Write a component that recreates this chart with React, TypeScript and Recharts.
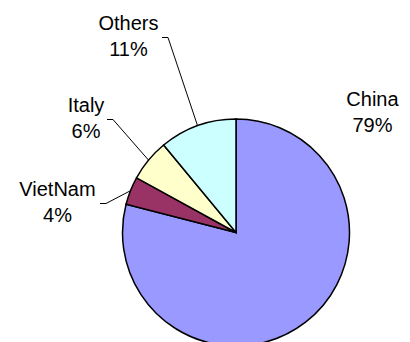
import React from "react";
import { PieChart, Pie, Cell } from "recharts";

const countries = ["China", "VietNam", "Italy", "Others"];
const shares = [79, 4, 6, 11];
const sliceColors = ["#9999FF", "#993366", "#FFFFCC", "#CCFFFF"];

const data = countries.map((name, i) => ({ name, value: shares[i] }));

// label placement relative to pie centre (text centre x, first baseline y, tick start dx from text centre)
const LABEL_LAYOUT: Record<string, { x: number; y: number; tick: number | null }> = {
  China: { x: 136.5, y: -126.5, tick: null },
  Others: { x: -107.5, y: -202.5, tick: 33.5 },
  Italy: { x: -150, y: -120.5, tick: 21 },
  VietNam: { x: -178.5, y: -36.5, tick: 42.5 },
};

const FONT = "'Liberation Sans', Arial, sans-serif";
const FONT_SIZE = 20;
const LINE_GAP = 26;
const RADIAN = Math.PI / 180;

const renderLabel = (props: any) => {
  const { cx, cy, midAngle, outerRadius, name, percent } = props;
  const layout = LABEL_LAYOUT[name];
  if (!layout) return null;
  const tx = cx + layout.x;
  const ty = cy + layout.y;
  const pct = `${Math.round(percent * 100)}%`;
  let line = null;
  if (layout.tick !== null) {
    const sx = tx + layout.tick;
    const sy = ty + 7.5;
    const ex = cx + outerRadius * Math.cos(-midAngle * RADIAN);
    const ey = cy + outerRadius * Math.sin(-midAngle * RADIAN);
    line = (
      <polyline
        points={`${sx},${sy} ${sx + 6},${sy} ${ex},${ey}`}
        fill="none"
        stroke="#000"
        strokeWidth={1}
      />
    );
  }
  return (
    <g>
      {line}
      <text
        x={tx}
        y={ty}
        textAnchor="middle"
        fontFamily={FONT}
        fontSize={FONT_SIZE}
        fill="#000"
      >
        {name}
      </text>
      <text
        x={tx}
        y={ty + LINE_GAP}
        textAnchor="middle"
        fontFamily={FONT}
        fontSize={FONT_SIZE}
        fill="#000"
      >
        {pct}
      </text>
    </g>
  );
};

export default function App() {
  return (
    <div style={{ position: "absolute", left: 0, top: 0, background: "#fff" }}>
      <PieChart width={410} height={342} margin={{ top: 0, right: 0, bottom: 0, left: 0 }}>
        <Pie
          data={data}
          dataKey="value"
          nameKey="name"
          cx={236}
          cy={232.5}
          outerRadius={113.5}
          startAngle={90}
          endAngle={-270}
          stroke="#000"
          strokeWidth={1.5}
          label={renderLabel}
          labelLine={false}
          isAnimationActive={false}
        >
          {data.map((d, i) => (
            <Cell key={d.name} fill={sliceColors[i]} stroke="#000" strokeWidth={1.5} />
          ))}
        </Pie>
      </PieChart>
    </div>
  );
}
